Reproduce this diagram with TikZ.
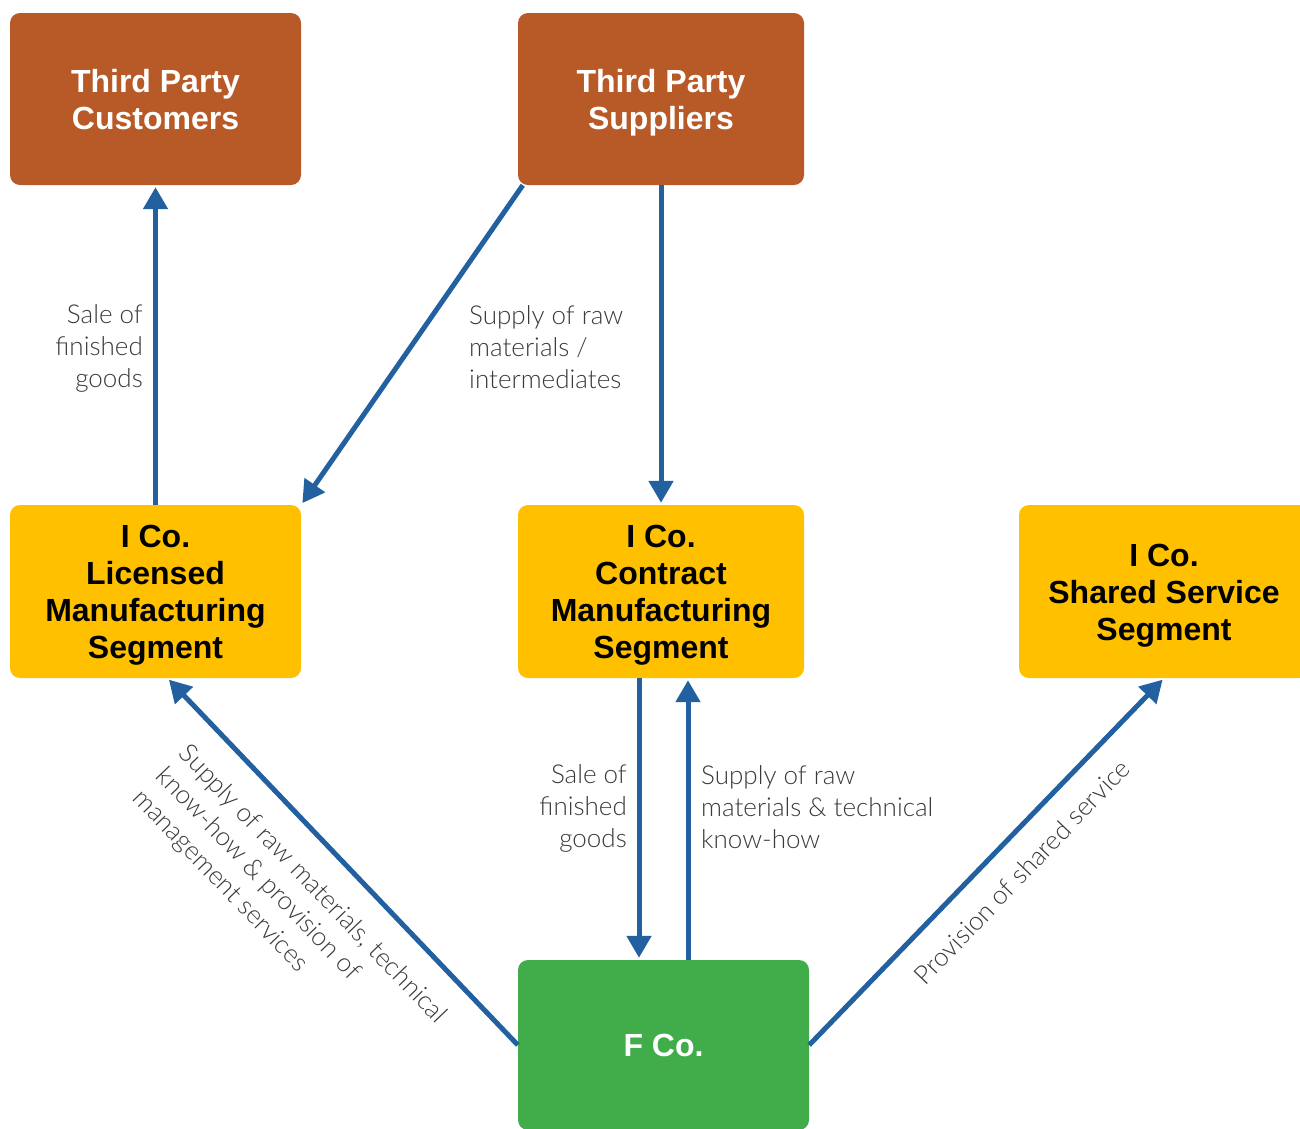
\documentclass[tikz,border=0pt]{standalone}
\usepackage{fontspec}
\setmainfont{Liberation Sans}
\IfFontExistsTF{Lato Light}{\newfontfamily\lightfont{Lato Light}}{\newfontfamily\lightfont{Lato}}
\usetikzlibrary{arrows.meta}
\definecolor{brownbox}{HTML}{B85A28}
\definecolor{goldbox}{HTML}{FFC000}
\definecolor{greenbox}{HTML}{41AD4A}
\definecolor{arrowblue}{HTML}{2260A0}
\definecolor{labelgray}{HTML}{3A3A3A}
\newcommand\tls{\rule[-7pt]{0pt}{37pt}}
\tikzset{
  boxbase/.style={rounded corners=10pt, inner sep=0pt, align=center,
    font=\fontsize{32}{37}\selectfont\bfseries},
  thirdbox/.style={boxbase, fill=brownbox, text=white},
  icobox/.style={boxbase, fill=goldbox, text=black},
  fbox/.style={boxbase, fill=greenbox, text=white},
  flow/.style={draw=arrowblue, line width=5pt,
    -{Triangle[length=22pt,width=24pt]}, shorten >=2pt},
  lbl/.style={text=labelgray, inner sep=0pt,
    font=\lightfont\fontsize{26}{32}\selectfont}
}
\begin{document}
\begin{tikzpicture}[x=1pt,y=-1pt]
\useasboundingbox (0,0) rectangle (1300,1128);
\fill[white] (0,0) rectangle (1300,1128);

\node[thirdbox, minimum width=291pt, minimum height=172pt] (cust) at (155.5,99) {Third Party\tls\\Customers\tls};
\node[thirdbox, minimum width=286pt, minimum height=172pt] (sup) at (661,99) {Third Party\tls\\Suppliers\tls};
\node[icobox, minimum width=291pt, minimum height=173pt] (lic) at (155.5,591.5) {I Co.\tls\\Licensed\tls\\Manufacturing\tls\\Segment\tls};
\node[icobox, minimum width=286pt, minimum height=173pt] (con) at (661,591.5) {I Co.\tls\\Contract\tls\\Manufacturing\tls\\Segment\tls};
\node[icobox, minimum width=290pt, minimum height=173pt] (shr) at (1164,591.5) {I Co.\tls\\Shared Service\tls\\Segment\tls};
\node[fbox, minimum width=291pt, minimum height=170pt] (fco) at (663.5,1045) {F Co.\tls};

\draw[flow] (lic.north) -- (cust.south);
\draw[flow] ([xshift=5pt]sup.south west) -- (lic.north east);
\draw[flow] (sup.south) -- (con.north);
\draw[flow] ([xshift=-22pt]con.south) -- ([xshift=-22pt]con.south |- fco.north);
\draw[flow] ([xshift=27pt]con.south |- fco.north) -- ([xshift=27pt]con.south);
\draw[flow] (fco.west) -- ([xshift=12pt]lic.south);
\draw[flow] (fco.east) -- (shr.south);

\node[lbl, anchor=east, align=right] (l1) at (143,348) {Sale of\\finished\\goods};
\node[lbl, anchor=west, align=left] (l2) at (469,347) {Supply of raw\\materials /\\intermediates};
\node[lbl, anchor=east, align=right] (l3) at (627,808) {Sale of\\finished\\goods};
\node[lbl, anchor=west, align=left] (l4) at (701,807) {Supply of raw\\materials \& technical\\know-how};
\node[lbl, rotate=-46.2, align=left] (l5) at (289,907) {Supply of raw materials, technical\\know-how \& provision of\\management services};
\node[lbl, rotate=46.4] (l6) at (1022,872) {Provision of shared service};
\end{tikzpicture}
\end{document}
